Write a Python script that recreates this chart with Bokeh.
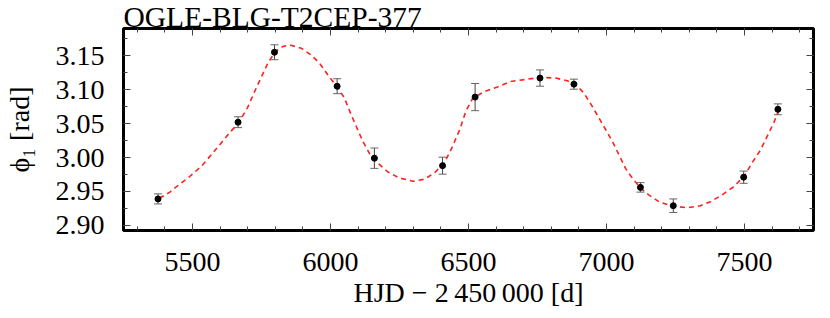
from bokeh.plotting import figure
from bokeh.models import (LinearAxis, SingleIntervalTicker, PrintfTickFormatter,
                          Whisker, TeeHead, ColumnDataSource, Range1d)
from bokeh.embed import file_html
from bokeh.resources import INLINE

# ---- data ----
hjd = [5375, 5665, 5797, 6024, 6159, 6406, 6524, 6759, 6882, 7123, 7242, 7497, 7621]
phi = [2.939, 3.052, 3.155, 3.105, 2.999, 2.988, 3.089, 3.117, 3.108, 2.956, 2.929, 2.971, 3.071]
err = [0.0074, 0.008, 0.011, 0.011, 0.015, 0.0125, 0.020, 0.012, 0.0074, 0.007, 0.010, 0.009, 0.008]

fit_x = [5380, 5418, 5454, 5490, 5532, 5568, 5601, 5629, 5667, 5699, 5725, 5750, 5773, 5800,
         5825, 5851, 5894, 5930, 5960, 5990, 6027, 6050, 6075, 6093, 6117, 6141, 6171, 6207,
         6249, 6298, 6340, 6376, 6412, 6442, 6470, 6490, 6515, 6557, 6605, 6653, 6708, 6762,
         6816, 6858, 6890, 6918, 6949, 6973, 6997, 7021, 7051, 7069, 7093, 7123, 7153, 7190,
         7232, 7292, 7340, 7377, 7419, 7461, 7498, 7527, 7558, 7582, 7606, 7624]
fit_y = [2.940, 2.949, 2.961, 2.972, 2.987, 3.004, 3.020, 3.034, 3.051, 3.073, 3.097, 3.119,
         3.139, 3.156, 3.163, 3.166, 3.161, 3.151, 3.139, 3.122, 3.102, 3.088, 3.063, 3.046,
         3.024, 3.006, 2.992, 2.979, 2.970, 2.965, 2.968, 2.977, 2.992, 3.016, 3.043, 3.068,
         3.087, 3.097, 3.104, 3.112, 3.115, 3.118, 3.117, 3.113, 3.107, 3.095, 3.075, 3.058,
         3.041, 3.024, 2.999, 2.984, 2.970, 2.955, 2.945, 2.935, 2.929, 2.926, 2.929, 2.935,
         2.945, 2.957, 2.972, 2.992, 3.011, 3.031, 3.051, 3.070]

title_text = "OGLE-BLG-T2CEP-377"
xlabel_text = "HJD \u2212 2\u2009450\u2009000 [d]"
ylabel_text = "\u03d5\u2081 [rad]"

X0, X1 = 5250, 7750
Y0, Y1 = 2.8925, 3.19

FONT = "Liberation Serif"
FS = "28px"

p = figure(width=830, height=318, output_backend="svg", toolbar_location=None,
           x_range=Range1d(X0, X1), y_range=Range1d(Y0, Y1),
           min_border_left=122, min_border_right=17, min_border_top=28, min_border_bottom=88,
           background_fill_color="white", border_fill_color="white")
p.xgrid.visible = False
p.ygrid.visible = False
p.outline_line_color = "black"
p.outline_line_width = 3

p.title.text = title_text
p.title.text_font = FONT
p.title.text_font_size = "29.5px"
p.title.text_font_style = "normal"
p.title.text_color = "black"
p.title.align = "left"
p.title.offset = 0
try:
    p.title.standoff = -9
except Exception:
    p.title.standoff = 0


def style_axis(ax, ticker, show_labels, standoff=15):
    ax.ticker = ticker
    ax.axis_line_color = None
    ax.major_tick_in = 7
    ax.major_tick_out = 0
    ax.minor_tick_in = 4
    ax.minor_tick_out = 0
    ax.major_tick_line_color = "#444444"
    ax.minor_tick_line_color = "#444444"
    ax.major_tick_line_width = 1
    ax.minor_tick_line_width = 1
    if show_labels:
        ax.major_label_text_font = FONT
        ax.major_label_text_font_size = FS
        ax.major_label_text_color = "black"
        ax.major_label_standoff = standoff
        ax.axis_label_text_font = FONT
        ax.axis_label_text_font_size = FS
        ax.axis_label_text_font_style = "normal"
        ax.axis_label_text_color = "black"
    else:
        ax.major_label_text_font_size = "0px"
        ax.major_label_standoff = 0


xt = lambda: SingleIntervalTicker(interval=500, num_minor_ticks=5)
yt = lambda: SingleIntervalTicker(interval=0.05, num_minor_ticks=2)

style_axis(p.xaxis[0], xt(), True, 22)
p.xaxis[0].axis_label = xlabel_text
p.xaxis[0].axis_label_standoff = 3
style_axis(p.yaxis[0], yt(), True, 19)
p.yaxis[0].formatter = PrintfTickFormatter(format="%.2f")
p.yaxis[0].axis_label = ylabel_text
p.yaxis[0].axis_label_standoff = 18

top_ax = LinearAxis()
style_axis(top_ax, xt(), False)
p.add_layout(top_ax, "above")
right_ax = LinearAxis()
style_axis(right_ax, yt(), False)
p.add_layout(right_ax, "right")

# fit curve
p.line(fit_x, fit_y, line_color="#ff2020", line_width=1.6, line_dash="5 4")

# error bars
src = ColumnDataSource(data=dict(x=hjd, y=phi,
                                 lo=[a - b for a, b in zip(phi, err)],
                                 hi=[a + b for a, b in zip(phi, err)]))
w = Whisker(source=src, base="x", lower="lo", upper="hi", dimension="height",
            line_color="#444444", line_width=1,
            upper_head=TeeHead(size=8, line_color="#666666", line_width=1),
            lower_head=TeeHead(size=8, line_color="#666666", line_width=1))
p.add_layout(w)
p.scatter("x", "y", source=src, size=6, color="black")

open("out.html", "w").write(file_html(p, INLINE))
